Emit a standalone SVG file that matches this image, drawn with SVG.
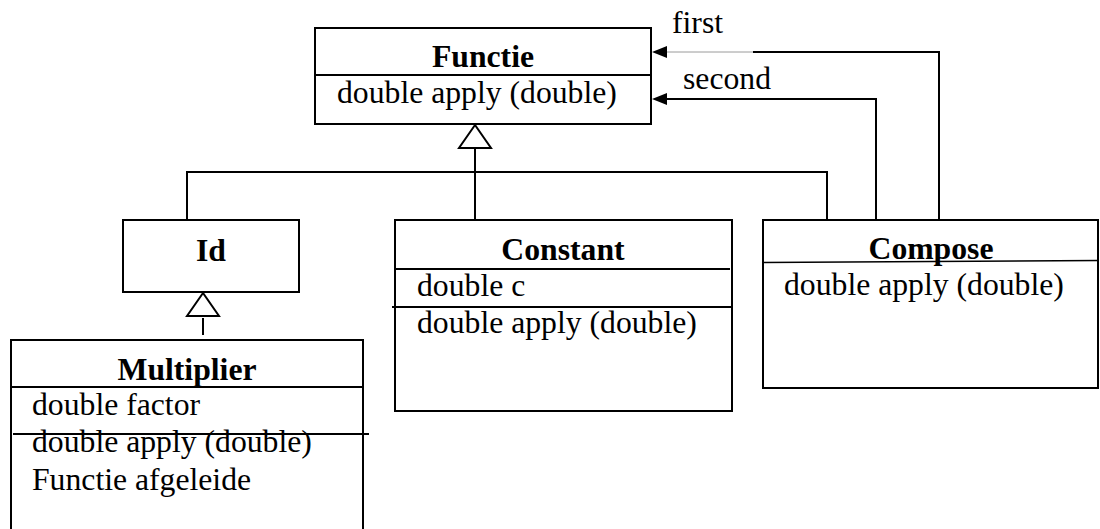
<svg xmlns="http://www.w3.org/2000/svg" width="1100" height="529" viewBox="0 0 1100 529">
  <style>
    .box { fill: #ffffff; stroke: #000000; stroke-width: 2; }
    .sep { stroke: #000000; stroke-width: 2; fill: none; }
    .wire { stroke: #000000; stroke-width: 2; fill: none; }
    .faint { stroke: #9a9a9a; stroke-width: 1; fill: none; }
    .tri { fill: #ffffff; stroke: #000000; stroke-width: 2; stroke-linejoin: miter; }
    text { font-family: "Liberation Serif", "Times New Roman", Times, serif; font-size: 31.7px; fill: #000000; }
    .title { font-weight: bold; text-anchor: middle; }
  </style>
  <rect width="1100" height="529" fill="#ffffff"/>

  <!-- connectors -->
  <g id="connectors">
    <!-- generalisation towards Functie -->
    <polyline class="wire" points="187,220 187,172 827,172 827,220"/>
    <line class="wire" x1="475" y1="148" x2="475" y2="220"/>
    <polygon class="tri" points="475,125 459,148 491,148"/>
    <!-- generalisation towards Id -->
    <polygon class="tri" points="203,293 187,316 219,316"/>
    <line class="wire" x1="203" y1="318" x2="203" y2="335"/>
    <!-- Compose.first -> Functie -->
    <polyline class="wire" points="939,220 939,52 753,52"/>
    <line class="faint" x1="753" y1="52" x2="666" y2="52"/>
    <path d="M652,52 L667,46 L667,58 Z" fill="#000000"/>
    <text x="672" y="33">first</text>
    <!-- Compose.second -> Functie -->
    <polyline class="wire" points="876,220 876,99 666,99"/>
    <path d="M652,99 L667,93 L667,105 Z" fill="#000000"/>
    <text x="683" y="89">second</text>
  </g>

  <!-- Functie -->
  <g id="functie">
    <rect class="box" x="315" y="28" width="336" height="96"/>
    <line class="sep" x1="315" y1="75" x2="651" y2="75"/>
    <text class="title" x="483" y="67">Functie</text>
    <text x="337" y="103">double apply (double)</text>
  </g>

  <!-- Id -->
  <g id="id">
    <rect class="box" x="123" y="220" width="176" height="72"/>
    <text class="title" x="211" y="261">Id</text>
  </g>

  <!-- Multiplier (runs past the lower edge) -->
  <g id="multiplier">
    <rect class="box" x="11" y="340" width="352" height="200"/>
    <line class="sep" x1="11" y1="387" x2="363" y2="387"/>
    <text class="title" x="187" y="380">Multiplier</text>
    <text x="32" y="415">double factor</text>
    <line class="sep" x1="13" y1="434" x2="369" y2="434"/>
    <text x="32" y="452">double apply (double)</text>
    <text x="32" y="490">Functie afgeleide</text>
  </g>

  <!-- Constant -->
  <g id="constant">
    <rect class="box" x="395" y="220" width="337" height="191"/>
    <line class="sep" x1="395" y1="269" x2="730" y2="269"/>
    <text class="title" x="563" y="260">Constant</text>
    <text x="417" y="296">double c</text>
    <line class="sep" x1="392" y1="307" x2="732" y2="307"/>
    <text x="417" y="333">double apply (double)</text>
  </g>

  <!-- Compose -->
  <g id="compose">
    <rect class="box" x="763" y="220" width="335" height="168"/>
    <text class="title" x="931" y="259">Compose</text>
    <line x1="762" y1="262.5" x2="1099" y2="260.5" stroke="#000000" stroke-width="1.6"/>
    <text x="784" y="295">double apply (double)</text>
  </g>
</svg>
